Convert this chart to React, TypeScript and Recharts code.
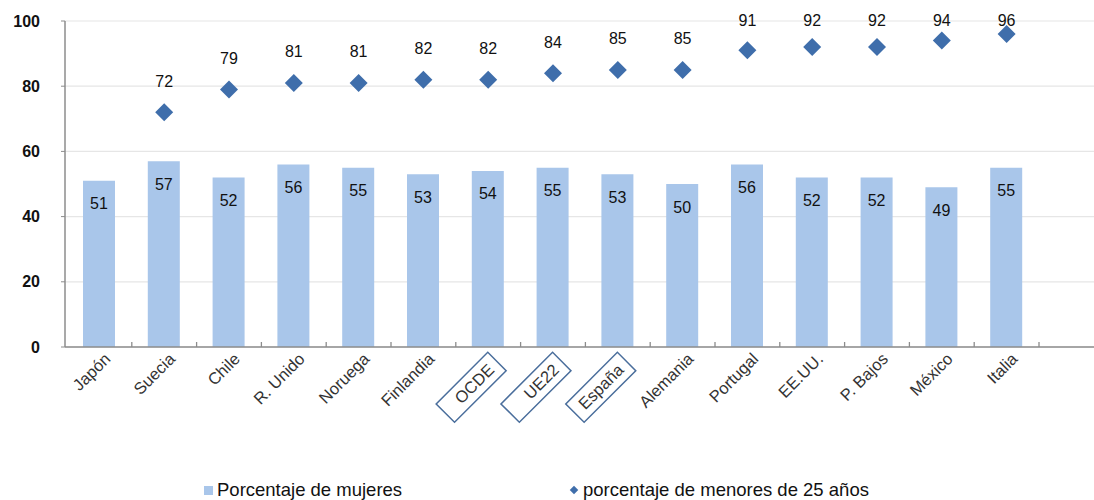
import React from "react";
import { ComposedChart, Bar, Line, XAxis, YAxis, CartesianGrid, LabelList } from "recharts";

const categories = ["Japón", "Suecia", "Chile", "R. Unido", "Noruega", "Finlandia", "OCDE", "UE22", "España", "Alemania", "Portugal", "EE.UU.", "P. Bajos", "México", "Italia"];
const mujeres = [51, 57, 52, 56, 55, 53, 54, 55, 53, 50, 56, 52, 52, 49, 55];
const menores25 = [null, 72, 79, 81, 81, 82, 82, 84, 85, 85, 91, 92, 92, 94, 96];
const boxedCategories = ["OCDE", "UE22", "España"];
const yTicks = [0, 20, 40, 60, 80, 100];
const legendLabels = ["Porcentaje de mujeres", "porcentaje de menores de 25 años"];

const data = categories.map((c, i) => ({ name: c, mujeres: mujeres[i], menores: menores25[i] }));

const FONT = "'Liberation Sans', Arial, sans-serif";
const BAR_COLOR = "#A9C6EA";
const DIAMOND_COLOR = "#3F6EAB";
const BAND = 64.8;

const XTick = (props: any) => {
  const { x, y, payload } = props;
  const boxed = boxedCategories.includes(payload.value);
  const ax = boxed ? x + 7 : x + 12;
  const ay = boxed ? y + 24 : y + 13;
  return (
    <g>
      <line x1={x + BAND / 2} x2={x + BAND / 2} y1={y} y2={y - 5} stroke="#8c8c8c" strokeWidth={1.3} />
      <g transform={`translate(${ax},${ay}) rotate(-45)`}>
        {boxed && (
          <rect x={-65} y={-18.5} width={73} height={26} fill="none" stroke="#4A6E9C" strokeWidth={1.5} />
        )}
        <text x={0} y={0} textAnchor="end" fontSize={16.5} fill="#333" fontFamily={FONT}>
          {payload.value}
        </text>
      </g>
    </g>
  );
};

const Diamond = (props: any) => {
  const { cx, cy, value } = props;
  if (cx == null || cy == null || value == null) return null;
  const r = 9;
  return <path d={`M${cx},${cy - r} L${cx + r},${cy} L${cx},${cy + r} L${cx - r},${cy} Z`} fill={DIAMOND_COLOR} />;
};

const BarLabel = (props: any) => {
  const { x, y, width, value } = props;
  return (
    <text x={x + width / 2} y={y + 23} textAnchor="middle" dominantBaseline="central" fontSize={16} fill="#111" fontFamily={FONT}>
      {value}
    </text>
  );
};

const PointLabel = (props: any) => {
  const { x, y, value } = props;
  if (value == null || y == null) return null;
  const ly = Math.max(y - 31, 20);
  return (
    <text x={x} y={ly} textAnchor="middle" dominantBaseline="central" fontSize={16} fill="#111" fontFamily={FONT}>
      {value}
    </text>
  );
};

export default function App() {
  return (
    <div style={{ position: "absolute", left: 0, top: 0, width: 1094, height: 500, background: "#fff" }}>
      <ComposedChart width={1094} height={500} data={data} margin={{ top: 21, right: 0, left: 0, bottom: 0 }}>
        <CartesianGrid vertical={false} stroke="#E6E6E6" strokeWidth={1.2} />
        <XAxis
          dataKey="name"
          interval={0}
          height={153}
          padding={{ left: 2, right: 55 }}
          tickLine={false}
          tickSize={0}
          tickMargin={0}
          axisLine={{ stroke: "#8c8c8c", strokeWidth: 1.5 }}
          tick={<XTick />}
        />
        <YAxis
          domain={[0, 100]}
          ticks={yTicks}
          width={65}
          tickSize={4}
          tickMargin={21}
          axisLine={{ stroke: "#8c8c8c", strokeWidth: 1.5 }}
          tickLine={{ stroke: "#8c8c8c" }}
          tick={{ fontSize: 16, fill: "#111", fontFamily: FONT, fontWeight: 700 }}
        />
        <Bar dataKey="mujeres" fill={BAR_COLOR} barSize={32} isAnimationActive={false}>
          <LabelList dataKey="mujeres" content={<BarLabel />} />
        </Bar>
        <Line dataKey="menores" stroke="none" dot={<Diamond />} activeDot={false} connectNulls={false} isAnimationActive={false}>
          <LabelList dataKey="menores" content={<PointLabel />} />
        </Line>
      </ComposedChart>
      <div style={{ position: "absolute", top: 479, left: 204, fontFamily: FONT, fontSize: 18.5, color: "#111", display: "flex", alignItems: "center", whiteSpace: "nowrap" }}>
        <span style={{ display: "inline-block", width: 9, height: 9, background: BAR_COLOR, marginRight: 4 }} />
        {legendLabels[0]}
      </div>
      <div style={{ position: "absolute", top: 479, left: 569, fontFamily: FONT, fontSize: 18.5, color: "#111", display: "flex", alignItems: "center", whiteSpace: "nowrap" }}>
        <span style={{ display: "inline-block", width: 6, height: 6, background: DIAMOND_COLOR, transform: "rotate(45deg)", marginRight: 6, marginLeft: 2 }} />
        {legendLabels[1]}
      </div>
    </div>
  );
}
